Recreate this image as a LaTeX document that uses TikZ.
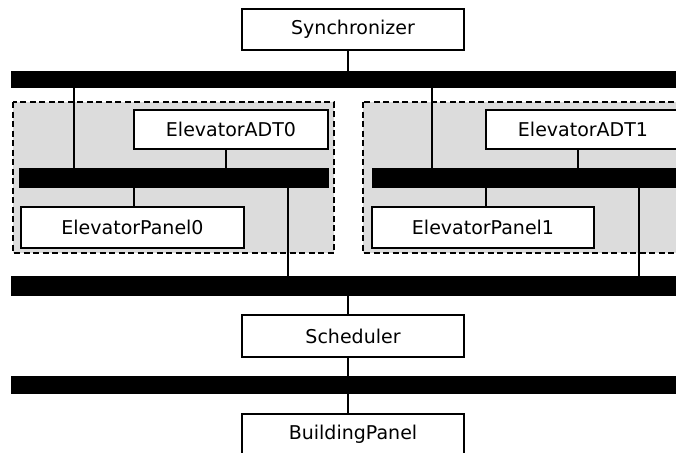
\documentclass[tikz,border=0pt]{standalone}
\usepackage{fontspec}
\setmainfont{DejaVu Sans}
\definecolor{grpfill}{RGB}{220,220,220}
\begin{document}
\begin{tikzpicture}[x=1pt,y=-1pt,
  box/.style={draw, line width=1.5pt, fill=white, inner sep=0pt, minimum height=41pt, font=\fontsize{19}{21}\selectfont},
  bus/.style={fill=black, inner sep=0pt, minimum height=20pt},
  conn/.style={line width=1.3pt},
  grp/.style={fill=grpfill, draw=black, line width=2pt, dash pattern=on 6pt off 3.5pt}]
\useasboundingbox (0,0) rectangle (676,452);
\clip (0,0) rectangle (676,452);
% groups
\draw[grp] (13,102) rectangle (334,253);
\draw[grp] (363,102) rectangle (700,253);
% nodes
\node[box, minimum width=222pt] (sync) at (353,29.5) {Synchronizer};
\node[box, minimum width=194pt, minimum height=39pt] (adt0) at (231,129.5) {ElevatorADT0};
\node[box, minimum width=223pt] (pan0) at (132.5,227.5) {ElevatorPanel0};
\node[box, minimum width=194pt, minimum height=39pt] (adt1) at (583,129.5) {ElevatorADT1};
\node[box, minimum width=222pt] (pan1) at (483,227.5) {ElevatorPanel1};
\node[box, minimum width=222pt, minimum height=42pt] (sched) at (353,336) {Scheduler};
\node[box, minimum width=222pt] (bpan) at (353,434.5) {BuildingPanel};
% buses
\node[bus, minimum width=689pt, minimum height=17pt] (bustop) at (355.5,79.5) {};
\node[bus, minimum width=310pt] (bus0) at (174,178) {};
\node[bus, minimum width=328pt] (bus1) at (536,178) {};
\node[bus, minimum width=689pt] (busmid) at (355.5,286) {};
\node[bus, minimum width=689pt, minimum height=18pt] (busbot) at (355.5,385) {};
% x positions
\coordinate (xc) at (348,0);
\coordinate (xa) at (74,0);
\coordinate (xb) at (432,0);
\coordinate (xd) at (226,0);
\coordinate (xe) at (134,0);
\coordinate (xf) at (288,0);
\coordinate (xg) at (578,0);
\coordinate (xh) at (486,0);
\coordinate (xi) at (639,0);
% connectors
\draw[conn] (xc |- sync.south) -- (xc |- bustop.north);
\draw[conn] (xa |- bustop.south) -- (xa |- bus0.north);
\draw[conn] (xb |- bustop.south) -- (xb |- bus1.north);
\draw[conn] (xd |- adt0.south) -- (xd |- bus0.north);
\draw[conn] (xe |- bus0.south) -- (xe |- pan0.north);
\draw[conn] (xf |- bus0.south) -- (xf |- busmid.north);
\draw[conn] (xg |- adt1.south) -- (xg |- bus1.north);
\draw[conn] (xh |- bus1.south) -- (xh |- pan1.north);
\draw[conn] (xi |- bus1.south) -- (xi |- busmid.north);
\draw[conn] (xc |- busmid.south) -- (xc |- sched.north);
\draw[conn] (xc |- sched.south) -- (xc |- busbot.north);
\draw[conn] (xc |- busbot.south) -- (xc |- bpan.north);
\end{tikzpicture}
\end{document}
